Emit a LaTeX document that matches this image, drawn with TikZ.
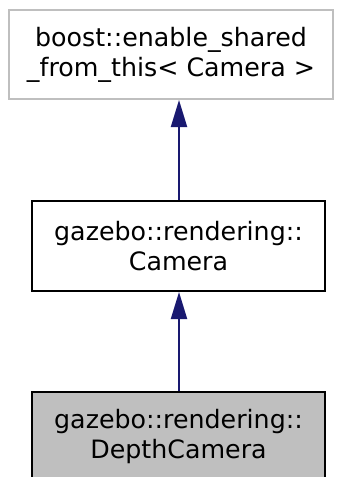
\documentclass[tikz,border=0pt]{standalone}
\usepackage{fontspec}
\setmainfont{DejaVu Sans}
\usepackage{xcolor}
\usetikzlibrary{arrows.meta}

\definecolor{edgeblue}{HTML}{191970}
\definecolor{boxgray}{HTML}{BFBFBF}

\tikzset{
  classbox/.style={draw=black, line width=2pt, align=center, inner sep=0pt,
    font=\fontsize{25.3}{30}\selectfont},
  inherit/.style={-{Triangle[length=27pt, width=16pt]}, edgeblue, line width=2pt}
}

\begin{document}
\begin{tikzpicture}[x=1pt, y=-1pt]
    \useasboundingbox (0,0) rectangle (340,477);
    \clip (0,0) rectangle (340,477);

    % Base class (external)
    \node[classbox, draw=boxgray, minimum width=324pt, minimum height=89pt]
        (enable) at (171,54.5) {boost::enable\_shared\\\_from\_this< Camera >};

    % Camera
    \node[classbox, minimum width=293pt, minimum height=90pt]
        (camera) at (178.5,246) {gazebo::rendering::\\Camera};

    % DepthCamera
    \node[classbox, fill=boxgray, minimum width=293pt, minimum height=90pt]
        (depth) at (178.5,437) {gazebo::rendering::\\DepthCamera};

    % Inheritance
    \draw[inherit] (camera.north -| 179,0) -- (enable.south -| 179,0);
    \draw[inherit] (depth.north -| 179,0) -- (camera.south -| 179,0);
\end{tikzpicture}
\end{document}
